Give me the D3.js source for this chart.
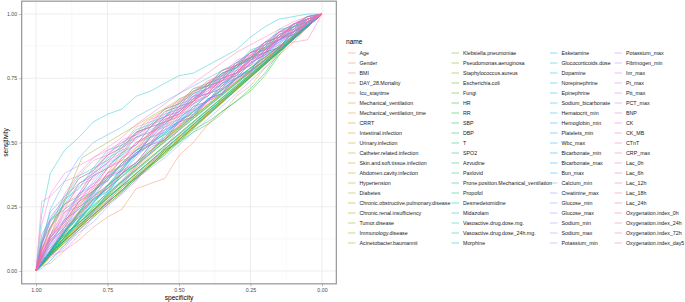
<!DOCTYPE html>
<html>
<head>
<meta charset="utf-8">
<script src="https://cdn.jsdelivr.net/npm/d3@7"></script>
<style>
  body { margin: 0; background: #fff; }
  text { font-family: "Liberation Sans", Arial, sans-serif; }
</style>
</head>
<body>
<svg></svg>
<script>
// factor levels, in legend order
const names = [
  "Age", "Gender", "BMI", "DAY_28.Mortality", "Icu_staytime", "Mechanical_ventilation",
  "Mechanical_ventilation_time", "CRRT", "Intestinal.infection", "Urinary.infection",
  "Catheter.related.infection", "Skin.and.soft.tissue.infection", "Abdomen.cavity.infection",
  "Hypertension", "Diabetes", "Chronic.obstructive.pulmonary.disease", "Chronic.renal.insufficiency",
  "Tumor.disease", "Immunology.disease", "Acinetobacter.baumannii",
  "Klebsiella.pneumoniae", "Pseudomonas.aeruginosa", "Staphylococcus.aureus", "Escherichia.coli",
  "Fungi", "HR", "RR", "SBP", "DBP", "T", "SPO2", "Azvudine", "Paxlovid",
  "Prone.position.Mechanical_ventilation", "Propofol", "Desmedetomidine", "Midazolam",
  "Vasoactive.drug.dose.mg.", "Vasoactive.drug.dose_24h.mg.", "Morphine",
  "Esketamine", "Glucocorticoids.dose", "Dopamine", "Norepinephrine", "Epinephrine",
  "Sodium_bicarbonate", "Hematocrit_min", "Hemoglobin_min", "Platelets_min", "Wbc_max",
  "Bicarbonate_min", "Bicarbonate_max", "Bun_max", "Calcium_min", "Creatinine_max",
  "Glucose_min", "Glucose_max", "Sodium_min", "Sodium_max", "Potassium_min",
  "Potassium_max", "Fibrinogen_min", "Inr_max", "Pt_max", "Ptt_max", "PCT_max", "BNP", "CK",
  "CK_MB", "CTnT", "CRP_max", "Lac_0h", "Lac_6h", "Lac_12h", "Lac_18h", "Lac_24h",
  "Oxygenation.index_0h", "Oxygenation.index_24h", "Oxygenation.index_72h", "Oxygenation.index_day5"
];

// binary predictors: one corner point [name, specificity, sensitivity]
const binaryCorners = [
  ["Gender", 0.55, 0.52], ["DAY_28.Mortality", 0.62, 0.58], ["Mechanical_ventilation", 0.45, 0.62],
  ["CRRT", 0.86, 0.22], ["Intestinal.infection", 0.93, 0.10], ["Urinary.infection", 0.90, 0.14],
  ["Catheter.related.infection", 0.95, 0.07], ["Skin.and.soft.tissue.infection", 0.97, 0.05],
  ["Abdomen.cavity.infection", 0.94, 0.08], ["Hypertension", 0.60, 0.47], ["Diabetes", 0.74, 0.31],
  ["Chronic.obstructive.pulmonary.disease", 0.92, 0.11], ["Chronic.renal.insufficiency", 0.88, 0.16],
  ["Tumor.disease", 0.85, 0.19], ["Immunology.disease", 0.96, 0.05], ["Acinetobacter.baumannii", 0.84, 0.44],
  ["Klebsiella.pneumoniae", 0.80, 0.29], ["Pseudomonas.aeruginosa", 0.86, 0.20],
  ["Staphylococcus.aureus", 0.93, 0.09], ["Escherichia.coli", 0.95, 0.06], ["Fungi", 0.82, 0.27],
  ["Azvudine", 0.70, 0.37], ["Paxlovid", 0.83, 0.22], ["Prone.position.Mechanical_ventilation", 0.78, 0.34],
  ["Propofol", 0.52, 0.64], ["Desmedetomidine", 0.76, 0.36], ["Midazolam", 0.66, 0.45],
  ["Morphine", 0.89, 0.17], ["Esketamine", 0.94, 0.10], ["Dopamine", 0.91, 0.13],
  ["Norepinephrine", 0.58, 0.55], ["Epinephrine", 0.96, 0.06], ["Sodium_bicarbonate", 0.84, 0.24]
];

// continuous predictors: sensitivity read at these specificities
const specGrid = [0.98, 0.95, 0.9, 0.85, 0.8, 0.75, 0.7, 0.65, 0.6, 0.55, 0.5, 0.45, 0.4, 0.35, 0.3, 0.25, 0.2, 0.15, 0.1, 0.05];
const curveSens = [
  ["Age", [.06,.13,.19,.27,.30,.38,.43,.45,.53,.58,.60,.66,.71,.72,.78,.84,.86,.91,.95,.98]],
  ["BMI", [.02,.03,.08,.12,.17,.21,.24,.32,.34,.36,.45,.50,.57,.61,.68,.72,.79,.84,.89,.95]],
  ["Icu_staytime", [.09,.14,.23,.25,.33,.35,.42,.47,.50,.56,.59,.65,.68,.73,.76,.82,.85,.90,.93,.97]],
  ["Mechanical_ventilation_time", [.05,.12,.18,.26,.31,.36,.44,.48,.54,.57,.63,.66,.72,.74,.80,.83,.89,.91,.96,.99]],
  ["HR", [.02,.06,.12,.20,.24,.29,.33,.36,.41,.47,.50,.55,.58,.62,.66,.70,.76,.84,.91,.97]],
  ["RR", [.11,.17,.26,.29,.37,.40,.46,.49,.56,.58,.64,.66,.72,.74,.80,.82,.88,.90,.95,.97]],
  ["SBP", [.03,.07,.15,.18,.22,.27,.31,.37,.41,.45,.50,.54,.57,.62,.66,.71,.77,.85,.90,.96]],
  ["DBP", [.04,.08,.17,.21,.28,.32,.38,.41,.48,.51,.58,.60,.67,.69,.75,.78,.85,.87,.93,.96]],
  ["T", [.14,.20,.24,.28,.31,.36,.42,.47,.50,.53,.56,.61,.66,.72,.77,.82,.87,.92,.95,.98]],
  ["SPO2", [.08,.17,.27,.36,.39,.45,.48,.54,.56,.62,.64,.70,.72,.77,.79,.85,.87,.93,.95,.99]],
  ["Vasoactive.drug.dose.mg.", [.12,.23,.29,.37,.40,.47,.49,.55,.57,.63,.65,.71,.72,.78,.80,.86,.88,.94,.95,.99]],
  ["Vasoactive.drug.dose_24h.mg.", [.11,.19,.28,.32,.40,.43,.49,.52,.58,.60,.65,.67,.73,.75,.81,.83,.89,.91,.96,.98]],
  ["Glucocorticoids.dose", [.22,.38,.47,.52,.58,.61,.63,.68,.70,.73,.76,.77,.80,.83,.86,.91,.95,.98,.99,1]],
  ["Hematocrit_min", [.05,.11,.17,.25,.29,.36,.39,.46,.49,.55,.58,.64,.66,.73,.75,.81,.84,.90,.92,.97]],
  ["Hemoglobin_min", [.06,.10,.20,.24,.31,.35,.42,.45,.52,.54,.60,.63,.69,.71,.78,.80,.86,.89,.95,.97]],
  ["Platelets_min", [.04,.13,.20,.30,.34,.41,.45,.52,.54,.60,.62,.68,.69,.75,.77,.83,.85,.91,.93,.98]],
  ["Wbc_max", [.01,.04,.10,.17,.23,.30,.38,.45,.52,.57,.62,.67,.71,.75,.79,.83,.87,.90,.94,.97]],
  ["Bicarbonate_min", [.10,.20,.26,.34,.37,.44,.47,.54,.56,.61,.63,.69,.71,.77,.79,.85,.86,.92,.94,.98]],
  ["Bicarbonate_max", [.05,.08,.16,.20,.28,.31,.38,.42,.49,.52,.59,.61,.67,.69,.76,.78,.85,.87,.93,.96]],
  ["Bun_max", [.10,.24,.35,.44,.50,.53,.56,.60,.63,.66,.69,.72,.75,.78,.81,.85,.88,.93,.96,.99]],
  ["Calcium_min", [.06,.09,.15,.22,.27,.31,.35,.40,.46,.53,.59,.64,.68,.73,.77,.82,.85,.89,.92,.96]],
  ["Creatinine_max", [.12,.20,.29,.34,.38,.42,.45,.49,.54,.58,.62,.66,.71,.76,.81,.85,.89,.93,.96,.98]],
  ["Glucose_min", [.03,.06,.10,.15,.19,.25,.30,.36,.40,.44,.49,.54,.59,.64,.69,.74,.79,.85,.90,.95]],
  ["Glucose_max", [.07,.13,.19,.27,.31,.38,.41,.47,.50,.57,.59,.65,.68,.74,.76,.82,.85,.91,.93,.98]],
  ["Sodium_min", [.05,.09,.18,.22,.30,.32,.39,.42,.49,.51,.57,.60,.66,.69,.75,.78,.84,.87,.93,.96]],
  ["Sodium_max", [.04,.11,.19,.27,.35,.42,.48,.52,.55,.58,.62,.67,.71,.74,.78,.82,.86,.90,.94,.98]],
  ["Potassium_min", [.04,.10,.16,.25,.28,.36,.40,.46,.49,.56,.58,.63,.66,.72,.75,.81,.84,.90,.92,.97]],
  ["Potassium_max", [.06,.14,.21,.30,.33,.40,.44,.50,.52,.59,.61,.67,.69,.75,.77,.83,.85,.92,.93,.98]],
  ["Fibrinogen_min", [.05,.06,.08,.14,.21,.27,.33,.41,.47,.52,.58,.62,.66,.71,.76,.81,.85,.89,.93,.96]],
  ["Inr_max", [.07,.13,.22,.30,.39,.45,.50,.53,.56,.60,.64,.68,.71,.74,.79,.84,.88,.92,.95,.98]],
  ["Pt_max", [.08,.14,.24,.29,.37,.40,.47,.49,.56,.58,.64,.66,.72,.74,.80,.82,.88,.90,.96,.98]],
  ["Ptt_max", [.05,.11,.17,.26,.30,.37,.39,.46,.49,.55,.57,.64,.66,.72,.75,.81,.84,.90,.92,.97]],
  ["PCT_max", [.18,.30,.38,.41,.44,.47,.50,.53,.57,.60,.63,.68,.71,.76,.80,.85,.89,.93,.96,.99]],
  ["BNP", [.07,.12,.23,.27,.34,.37,.44,.47,.54,.56,.63,.65,.71,.73,.79,.81,.88,.90,.96,.98]],
  ["CK", [.02,.05,.09,.16,.22,.26,.30,.35,.42,.48,.55,.61,.66,.70,.74,.78,.82,.86,.91,.95]],
  ["CK_MB", [.06,.11,.20,.24,.32,.35,.42,.45,.52,.55,.61,.63,.69,.71,.77,.80,.86,.88,.94,.97]],
  ["CTnT", [.11,.21,.28,.36,.39,.46,.49,.56,.58,.63,.65,.71,.73,.78,.80,.85,.87,.93,.94,.98]],
  ["CRP_max", [.04,.08,.17,.21,.29,.32,.39,.42,.49,.51,.58,.60,.66,.69,.75,.77,.84,.87,.93,.96]],
  ["Lac_0h", [.10,.19,.25,.33,.36,.43,.46,.52,.54,.60,.62,.68,.70,.76,.78,.84,.86,.92,.94,.98]],
  ["Lac_6h", [.09,.16,.26,.30,.38,.42,.48,.51,.57,.59,.66,.68,.73,.75,.81,.83,.89,.91,.96,.98]],
  ["Lac_12h", [.27,.29,.35,.37,.43,.45,.51,.53,.59,.61,.67,.69,.74,.76,.82,.84,.89,.91,.96,.98]],
  ["Lac_18h", [.07,.14,.20,.29,.33,.40,.43,.50,.53,.59,.61,.67,.69,.75,.77,.83,.85,.91,.92,.97]],
  ["Lac_24h", [.08,.16,.30,.38,.44,.48,.52,.57,.61,.65,.69,.73,.77,.81,.85,.88,.91,.94,.97,.99]],
  ["Oxygenation.index_0h", [.05,.12,.18,.27,.31,.38,.41,.48,.51,.58,.60,.66,.68,.74,.76,.82,.84,.88,.89,.90]],
  ["Oxygenation.index_24h", [.06,.13,.19,.28,.32,.40,.43,.50,.53,.59,.61,.67,.69,.75,.77,.83,.85,.91,.93,.97]],
  ["Oxygenation.index_72h", [.09,.12,.16,.22,.28,.33,.38,.44,.50,.56,.61,.66,.70,.74,.77,.80,.83,.87,.91,.96]],
  ["Oxygenation.index_day5", [.08,.17,.24,.34,.38,.45,.48,.54,.56,.62,.64,.70,.72,.78,.80,.85,.87,.93,.94,.98]]
];

const axisTicks = [0, 0.25, 0.5, 0.75, 1];
const minorTicks = [0.125, 0.375, 0.625, 0.875];

// ggplot's hue_pal: hcl in polar Luv, converted to sRGB
function hclLuv(h, c, l) {
  const hr = h * Math.PI / 180;
  const U = c * Math.cos(hr), V = c * Math.sin(hr);
  const Xn = 95.047, Yn = 100, Zn = 108.883;
  const den = Xn + 15 * Yn + 3 * Zn;
  const un = 4 * Xn / den, vn = 9 * Yn / den;
  const Y = l > 8 ? Yn * Math.pow((l + 16) / 116, 3) : Yn * l / 903.3;
  const u = U / (13 * l) + un, v = V / (13 * l) + vn;
  const X = 9 * Y * u / (4 * v);
  const Z = -X / 3 - 5 * Y + 3 * Y / v;
  const x = X / 100, y = Y / 100, z = Z / 100;
  const lin = [
    3.240479 * x - 1.537150 * y - 0.498535 * z,
    -0.969256 * x + 1.875992 * y + 0.041556 * z,
    0.055648 * x - 0.204043 * y + 1.057311 * z
  ];
  const gam = t => {
    t = Math.max(0, Math.min(1, t));
    return t <= 0.0031308 ? 12.92 * t : 1.055 * Math.pow(t, 1 / 2.4) - 0.055;
  };
  const [r, g, b] = lin.map(t => Math.round(255 * gam(t)));
  return d3.rgb(r, g, b).formatHex();
}

const palette = names.map((n, i) => hclLuv(15 + 360 * i / names.length, 100, 65));
const color = d3.scaleOrdinal().domain(names).range(palette);

// build ROC paths
const binMap = new Map(binaryCorners.map(d => [d[0], d]));
const curveMap = new Map(curveSens);
const series = names.map(name => {
  if (binMap.has(name)) {
    const b = binMap.get(name);
    return { name, pts: [[1, 0], [b[1], b[2]], [0, 1]] };
  }
  const s = curveMap.get(name);
  return { name, pts: [[1, 0]].concat(specGrid.map((sp, i) => [sp, s[i]]), [[0, 1]]) };
});

const W = 685, H = 302;
const svg = d3.select("svg").attr("width", W).attr("height", H);

const x = d3.scaleLinear().domain([1, 0]).range([36, 322]);
const y = d3.scaleLinear().domain([0, 1]).range([271, 14]);
const px0 = x(1.05), px1 = x(-0.05), py0 = y(1.05), py1 = y(-0.05);

// grid
const grid = svg.append("g");
grid.selectAll(".minx").data(minorTicks).enter().append("line")
  .attr("x1", d => x(d)).attr("x2", d => x(d)).attr("y1", py0).attr("y2", py1)
  .attr("stroke", "#f2f2f2").attr("stroke-width", 0.5);
grid.selectAll(".miny").data(minorTicks).enter().append("line")
  .attr("y1", d => y(d)).attr("y2", d => y(d)).attr("x1", px0).attr("x2", px1)
  .attr("stroke", "#f2f2f2").attr("stroke-width", 0.5);
grid.selectAll(".majx").data(axisTicks).enter().append("line")
  .attr("x1", d => x(d)).attr("x2", d => x(d)).attr("y1", py0).attr("y2", py1)
  .attr("stroke", "#ebebeb").attr("stroke-width", 0.9);
grid.selectAll(".majy").data(axisTicks).enter().append("line")
  .attr("y1", d => y(d)).attr("y2", d => y(d)).attr("x1", px0).attr("x2", px1)
  .attr("stroke", "#ebebeb").attr("stroke-width", 0.9);

const line = d3.line().x(d => x(d[0])).y(d => y(d[1]));

svg.append("g").selectAll("path").data(series).enter().append("path")
  .attr("d", d => line(d.pts))
  .attr("fill", "none")
  .attr("stroke", d => color(d.name))
  .attr("stroke-width", 0.7)
  .attr("stroke-opacity", 0.6);

svg.append("rect")
  .attr("x", px0).attr("y", py0).attr("width", px1 - px0).attr("height", py1 - py0)
  .attr("fill", "none").attr("stroke", "#8c8c8c").attr("stroke-width", 1.1);

// axes
const xAxis = svg.append("g").attr("transform", `translate(0,${py1})`)
  .call(d3.axisBottom(x).tickValues(axisTicks).tickFormat(d3.format(".2f")).tickSize(2.5).tickPadding(2));
const yAxis = svg.append("g").attr("transform", `translate(${px0},0)`)
  .call(d3.axisLeft(y).tickValues(axisTicks).tickFormat(d3.format(".2f")).tickSize(2.5).tickPadding(2));
[xAxis, yAxis].forEach(a => {
  a.select(".domain").remove();
  a.selectAll(".tick line").attr("stroke", "#8c8c8c").attr("stroke-width", 0.6);
  a.selectAll("text").attr("fill", "#4d4d4d").style("font-size", "5.3px")
    .style("font-family", "'Liberation Sans', Arial, sans-serif");
});

svg.append("text")
  .attr("x", x(0.5)).attr("y", 299.5)
  .attr("text-anchor", "middle").style("font-size", "6.6px").attr("fill", "#000")
  .text("specificity");
svg.append("text")
  .attr("transform", `translate(7.5,${y(0.5)}) rotate(-90)`)
  .attr("text-anchor", "middle").style("font-size", "6.6px").attr("fill", "#000")
  .text("sensitivity");

// legend: 4 columns of 20
const colX = [348, 451.5, 550, 614.5];
const legend = svg.append("g");
legend.append("text").attr("x", 346).attr("y", 43.5).style("font-size", "6.6px").attr("fill", "#000").text("name");
const item = legend.selectAll(".item").data(names).enter().append("g")
  .attr("transform", (d, i) => `translate(${colX[Math.floor(i / 20)]},${53 + 10 * (i % 20)})`);
item.append("line")
  .attr("x1", 0).attr("x2", 7.5).attr("y1", 0).attr("y2", 0)
  .attr("stroke", d => color(d)).attr("stroke-width", 0.8).attr("stroke-opacity", 0.6);
item.append("text")
  .attr("x", 11.5).attr("y", 1.9)
  .style("font-size", "5.3px").attr("fill", "#1a1a1a")
  .text(d => d);
</script>
</body>
</html>
